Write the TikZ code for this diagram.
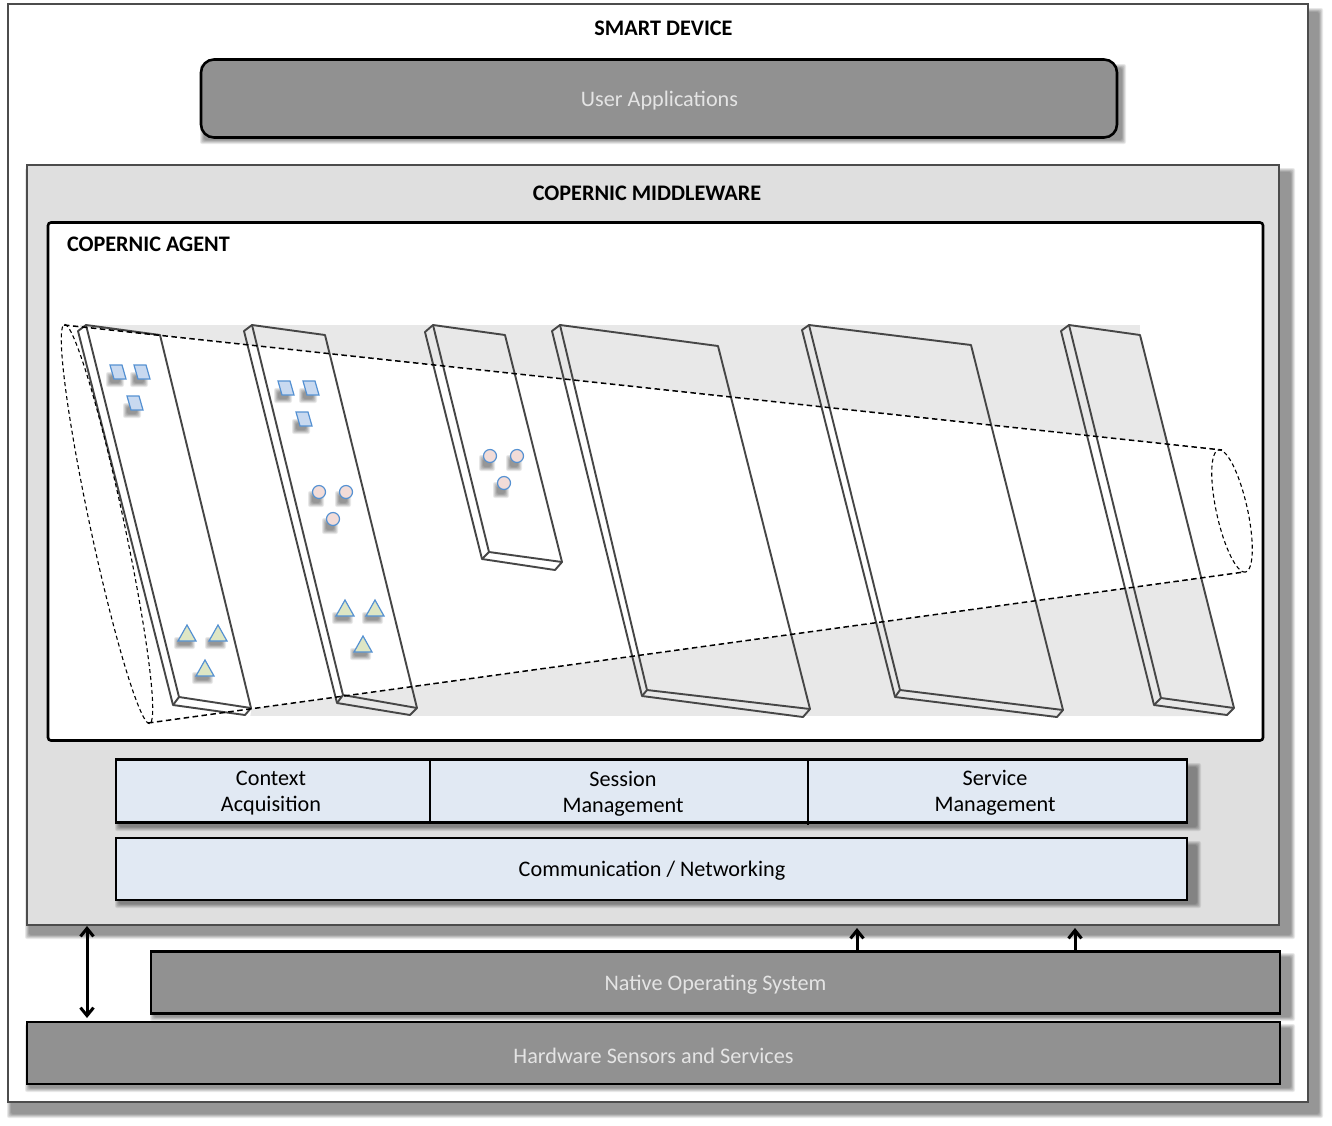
\documentclass[tikz,border=0pt]{standalone}
\usepackage{fontspec}
\setmainfont{Carlito}
\usetikzlibrary{arrows.meta}
\definecolor{boxgray}{RGB}{145,145,145}
\definecolor{paleblue}{RGB}{225,233,243}
\definecolor{midgray}{RGB}{223,223,223}
\definecolor{lightlabel}{RGB}{228,228,228}
\definecolor{band}{RGB}{232,232,232}
\definecolor{plateedge}{RGB}{70,70,70}
\definecolor{markblue}{RGB}{85,145,210}
\definecolor{markfillb}{RGB}{200,217,240}
\definecolor{markfillr}{RGB}{242,220,216}
\definecolor{markfillg}{RGB}{222,230,196}
\tikzset{
  x=1pt,y=-1pt,
  every node/.style={inner sep=0pt,outer sep=0pt,align=center,font=\fontsize{22.2}{26}\selectfont},
  framebox/.style={draw=black,line width=2.6pt},
  darkbox/.style={framebox,fill=boxgray},
  bluebox/.style={framebox,fill=paleblue},
  greyframe/.style={draw=black!70,line width=2.2pt},
  darklabel/.style={text=lightlabel},
  title/.style={font=\fontsize{22.2}{26}\bfseries\selectfont},
  plate/.style={draw=plateedge,line width=1.9pt,line join=round},
  tube/.style={draw=black,line width=1.5pt,dash pattern=on 5.5pt off 3.5pt},
  tubeend/.style={draw=black,line width=1.1pt,dash pattern=on 4pt off 3pt},
  square/.style={draw=markblue,fill=markfillb,line width=1.2pt},
  disc/.style={draw=markblue,fill=markfillr,line width=1.2pt},
  wedge/.style={draw=markblue,fill=markfillg,line width=1.2pt},
  link/.style={draw=black,line width=3pt,{Straight Barb[length=8pt,width=13pt]}-{Straight Barb[length=8pt,width=13pt]}},
  uplink/.style={draw=black,line width=3pt,-{Straight Barb[length=8pt,width=13pt]}},
}
% soft drop shadow built from stacked translucent rectangles
\newcommand{\softshadow}[5][2]{%
  \foreach \s in {-1,-0.6,-0.2,0.2,0.6,1}{
    \fill[black,opacity=0.082,rounded corners=#1pt] ({#2-\s*#1},{#3-\s*#1}) rectangle ({#4+\s*#1},{#5+\s*#1});
  }%
}
\begin{document}
\begin{tikzpicture}
\useasboundingbox (0,0) rectangle (1332,1125);
\fill[white] (0,0) rectangle (1332,1125);

% outer device frame
\softshadow{9}{10}{1321}{1116}
\node[greyframe,fill=white,minimum width=1300pt,minimum height=1098pt,anchor=north west] (device) at (8,4) {};
\node[title] (devicetitle) at (663.5,28) {SMART DEVICE};

\softshadow{202}{66}{1124}{142}
\node[darkbox,rounded corners=13pt,minimum width=916pt,minimum height=78pt,anchor=north west] (apps) at (201,59.5) {};
\node[darklabel] (appstext) at (659.5,101) {User Applications};

% middleware
\softshadow{27}{170}{1293}{937}
\node[greyframe,fill=midgray,minimum width=1252pt,minimum height=760pt,anchor=north west] (middleware) at (27,165) {};
\node[title] (mwtitle) at (647,193) {COPERNIC MIDDLEWARE};

% agent
\node[framebox,fill=white,rounded corners=3pt,minimum width=1215pt,minimum height=518pt,anchor=north west] (agent) at (48,222.5) {};
\node[title,anchor=west] (agenttitle) at (67,244) {COPERNIC AGENT};

% pale band behind the layers, with the tube left clear
\fill[band] (80,325) rectangle (1140,716);
\fill[band] (1140,335) -- (1234,708) -- (1227,716) -- (1140,716) -- cycle;
\fill[white] (64,325) -- (1222,450) -- (1244,572) -- (148,723) -- (52,723) -- (52,325) -- cycle;
\fill[white] (172,705) -- (252,705) -- (250,718) -- (172,718) -- cycle;

% layers of the agent
\foreach \ax/\ay/\bx/\by/\cx/\cy/\dx/\dy/\ex/\ey/\fx/\fy/\gx/\gy in {
  78/331/86/325/160/335/251/708/245/715/173/705/179/697,
  244/331/252/325/325/335/417/708/410/715/337/703/343/695,
  425/332/433/325/505/335/562/562/555/570/482/559/489/552,
  552/331/560/325/718/346/810/709/803/717/642/696/647/690,
  802/330/809/325/971/345/1063/710/1057/717/895/697/900/690,
  1061/331/1069/325/1140/335/1234/708/1227/715/1154/705/1161/698}{
  \draw[plate] (\bx,\by) -- (\cx,\cy) -- (\dx,\dy) -- (\ex,\ey) -- (\fx,\fy) -- (\ax,\ay) -- cycle;
  \draw[plate] (\bx,\by) -- (\gx,\gy) -- (\dx,\dy) (\gx,\gy) -- (\fx,\fy);
}

% tube around the layers
\coordinate (tubetl) at (64,325);
\coordinate (tubetr) at (1222,450);
\coordinate (tubebl) at (148,723);
\coordinate (tubebr) at (1244,572);
\draw[tube] (tubetl) -- (tubetr);
\draw[tube] (tubebl) -- (tubebr);
\draw[tubeend] plot[domain=0:360,samples=90,smooth] ({107+204*cos(\x)*0.2088-17*sin(\x)*0.978},{524+204*cos(\x)*0.978+17*sin(\x)*0.2088});
\draw[tubeend] plot[domain=0:360,samples=60,smooth] ({1232+62.5*cos(\x)*0.216-15.5*sin(\x)*0.976},{511+62.5*cos(\x)*0.976+15.5*sin(\x)*0.216});

% markers, each over a soft shadow
\foreach \x/\y in {118/372,142/372,135/403,286/388,311/388,304/419}{
  \softshadow{\x-10}{\y+2}{\x+4}{\y+13}
  \path[square] (\x-8,\y-7) -- (\x+4,\y-7) -- (\x+8,\y+7) -- (\x-4,\y+7) -- cycle;
}
\foreach \x/\y in {319/492,346/492,333/519,490/456,517/456,504/483}{
  \softshadow{\x-9}{\y+1}{\x+3}{\y+13}
  \path[disc] (\x,\y) circle[radius=6.5];
}
\foreach \x/\y in {187/633,218/633,205/668,345/608,375/608,363/644}{
  \softshadow{\x-11}{\y+6}{\x+6}{\y+14}
  \path[wedge] (\x,\y-8) -- (\x+9,\y+8) -- (\x-9,\y+8) -- cycle;
}

% services
\softshadow{117}{765}{1199}{829}
\node[bluebox,minimum width=1071pt,minimum height=63pt,anchor=north west] (services) at (116,759.5) {};
\node (ctx) at (271,793) {Context\\Acquisition};
\node (ses) at (623,794) {Session\\Management};
\node (srv) at (995,793) {Service\\Management};
\coordinate (d1a) at (430,759);
\coordinate (d1b) at (430,822);
\coordinate (d2a) at (808,759);
\coordinate (d2b) at (808,825);
\draw[framebox] (d1a) -- (d1b) (d2a) -- (d2b);
\softshadow{117}{843}{1199}{906}
\node[bluebox,minimum width=1071pt,minimum height=62pt,anchor=north west] (comm) at (116,838) {};
\node (commtext) at (652,871) {Communication / Networking};

% native layers
\softshadow{152}{955}{1293}{1019}
\node[framebox,fill=boxgray,minimum width=1129pt,minimum height=62pt,anchor=north west] (native) at (151,951.5) {};
\node[darklabel] (nativetext) at (715.5,985) {Native Operating System};
\softshadow{27}{1026}{1293}{1090}
\node[framebox,fill=boxgray,minimum width=1253pt,minimum height=62pt,anchor=north west] (hardware) at (27,1022) {};
\node[darklabel] (hardtext) at (653.5,1055.5) {Hardware Sensors and Services};

% connections between the layers
\coordinate (mwa) at (87,926);
\coordinate (hwa) at (87,1018);
\coordinate (osa) at (857,951);
\coordinate (mwb) at (857,928);
\coordinate (osb) at (1075,951);
\coordinate (mwc) at (1075,928);
\draw[link] (mwa) -- (hwa);
\draw[uplink] (osa) -- (mwb);
\draw[uplink] (osb) -- (mwc);
\end{tikzpicture}
\end{document}
